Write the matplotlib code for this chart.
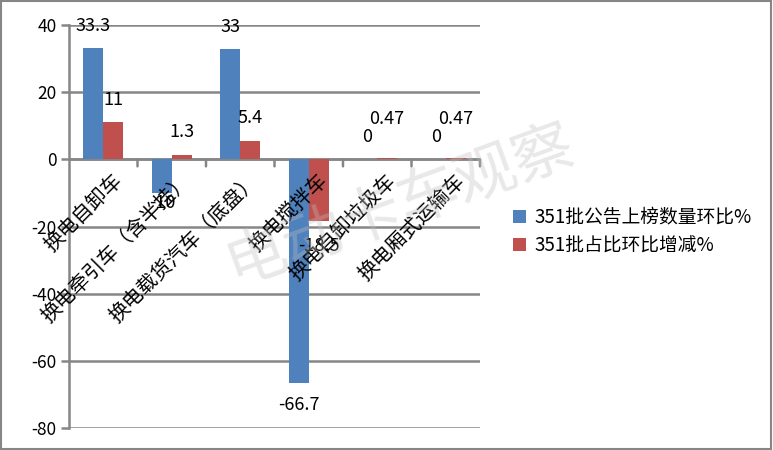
import matplotlib
matplotlib.use("Agg")
import matplotlib.pyplot as plt
import numpy as np

plt.rcParams['font.family'] = ['Noto Sans CJK SC', 'DejaVu Sans']

categories = ["换电自卸车", "换电牵引车（含半挂）", "换电载货汽车（底盘）",
              "换电搅拌车", "换电自卸垃圾车", "换电厢式运输车"]
series_names = ["351批公告上榜数量环比%", "351批占比环比增减%"]
blue_vals = [33.3, -10, 33, -66.7, 0, 0]
red_vals = [11, 1.3, 5.4, -18.5, 0.47, 0.47]
blue_labels = ["33.3", "-10", "33", "-66.7", "0", "0"]
red_labels = ["11", "1.3", "5.4", "-18.5", "0.47", "0.47"]
yticks = [-80, -60, -40, -20, 0, 20, 40]

BLUE = "#4F81BD"
RED = "#C0504D"
GRID = "#868686"

fig = plt.figure(figsize=(7.73, 4.5), dpi=100)
ax = fig.add_axes([69/773, 1-428/450, (480-69)/773, (428-25)/450])

x = np.arange(len(categories))
w = 0.29
ax.bar(x - w/2, blue_vals, width=w, color=BLUE, zorder=3, label=series_names[0])
ax.bar(x + w/2, red_vals, width=w, color=RED, zorder=3, label=series_names[1])

ax.set_xlim(-0.5, len(categories) - 0.5)
ax.set_ylim(-80, 40)
ax.set_yticks(yticks)
ax.set_yticklabels([str(t) for t in yticks], fontsize=12.5)
ax.yaxis.grid(True, color=GRID, linewidth=1.8, zorder=0)
ax.tick_params(axis='y', length=6, width=1.8, color=GRID, pad=3)
for s in ['top', 'right', 'bottom']:
    ax.spines[s].set_visible(False)
ax.spines['left'].set_color(GRID)
ax.spines['left'].set_linewidth(1.8)
ax.set_xticks([])

# zero line with category ticks
ax.axhline(0, color=GRID, linewidth=1.8, zorder=2)
for b in np.arange(0.5, len(categories) - 0.4, 1):
    ax.annotate("", xy=(b, 0), xytext=(0, -7), textcoords='offset pixels',
                arrowprops=dict(arrowstyle='-', color=GRID, lw=1.8,
                                shrinkA=0, shrinkB=0), zorder=2)

# category labels
for i, c in enumerate(categories):
    ax.annotate(c, xy=(i, 0), xytext=(8, -11), textcoords='offset pixels',
                rotation=45, ha='right', va='top', rotation_mode='anchor',
                fontsize=14.5, zorder=4)

# data labels
blue_off = [22, -10, 22, -22, 22, 22]
red_off = [22, 23, 23, -25, 39, 39]
for i in range(len(categories)):
    ax.annotate(blue_labels[i], xy=(x[i] - w/2, blue_vals[i]),
                xytext=(0, blue_off[i]), textcoords='offset pixels',
                ha='center', va='center', fontsize=13, zorder=5)
    ax.annotate(red_labels[i], xy=(x[i] + w/2, red_vals[i]),
                xytext=(0, red_off[i]), textcoords='offset pixels',
                ha='center', va='center', fontsize=13, zorder=5)

# legend
fig.legend(handles=ax.patches[:1] + ax.patches[len(categories):len(categories)+1],
           labels=series_names, loc='upper left',
           bbox_to_anchor=(496/773, 1-190/450), frameon=False, fontsize=13.5,
           handlelength=0.7, handleheight=0.7, handletextpad=0.45,
           labelspacing=0.4)

# watermark
fig.text(400/773, 1-205/450, "电动卡车观察", fontsize=44, color='#bfbfbf',
         alpha=0.35, rotation=20, ha='center', va='center', zorder=10)

# outer border
fig.patches.append(plt.Rectangle((0.001, 0.002), 0.997, 0.996, transform=fig.transFigure,
                                 fill=False, edgecolor=GRID, linewidth=1.5))

fig.savefig("out.png", dpi=100)
